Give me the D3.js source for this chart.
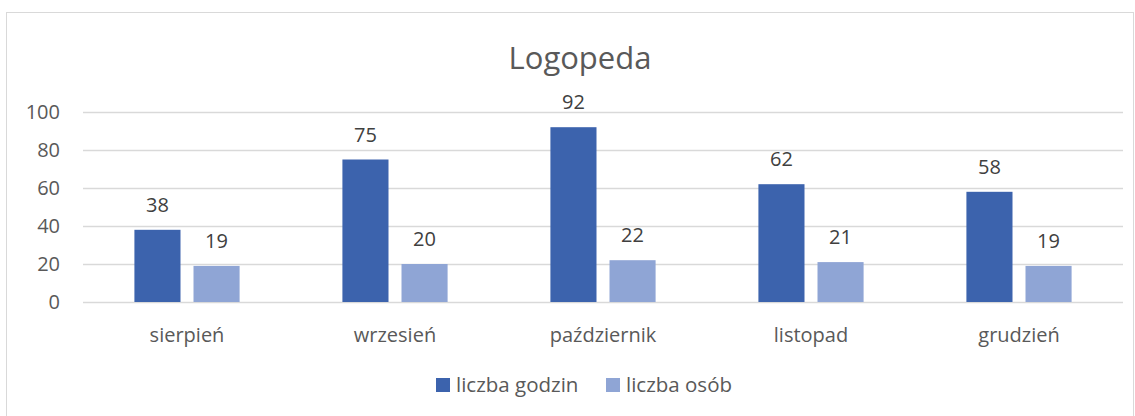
<!DOCTYPE html>
<html><head><meta charset="utf-8">
<script src="https://cdn.jsdelivr.net/npm/d3@7"></script>
<style>body{margin:0;background:#fff}svg{display:block;font-family:"Open Sans","Noto Sans",sans-serif}</style>
</head><body><svg id="c" width="1135" height="416"></svg>
<script>
const categories = ["sierpień","wrzesień","październik","listopad","grudzień"];
const seriesNames = ["liczba godzin","liczba osób"];
const godziny = [38,75,92,62,58];
const osoby = [19,20,22,21,19];
const yTicks = [0,20,40,60,80,100];
const colors = ["#3C63AD","#8FA5D5"];

const svg = d3.select("#c");
svg.append("rect").attr("x",6.5).attr("y",12.5).attr("width",1127).attr("height",420)
  .attr("fill","#fff").attr("stroke","#d9d9d9");

const m = {l:83, r:1123, t:112, b:302};
const x = d3.scaleBand().domain(categories).range([m.l,m.r]);
const y = d3.scaleLinear().domain([0,100]).range([m.b,m.t]);
const xs = d3.scaleBand().domain(seriesNames).range([0,x.bandwidth()]).paddingInner(0.22).paddingOuter(0.87);

svg.append("text").attr("x",580).attr("y",69).attr("text-anchor","middle")
  .attr("font-size",31).attr("fill","#595959").text("Logopeda");

const gy = svg.append("g");
gy.selectAll("line").data(yTicks).join("line")
  .attr("x1",m.l).attr("x2",m.r).attr("y1",d=>y(d)+0.5).attr("y2",d=>y(d)+0.5)
  .attr("stroke","#d9d9d9").attr("stroke-width",1.5);
gy.selectAll("text").data(yTicks).join("text")
  .attr("x",60).attr("y",d=>y(d)).attr("dy","0.35em").attr("text-anchor","end")
  .attr("font-size",20).attr("fill","#595959").text(d=>d);

const data = categories.map((c,i)=>({c, vals:[godziny[i],osoby[i]]}));
const g = svg.append("g");
data.forEach(d=>{
  d.vals.forEach((v,j)=>{
    const bx = x(d.c)+xs(seriesNames[j]);
    g.append("rect").attr("x",bx).attr("y",y(v)).attr("width",xs.bandwidth()).attr("height",y(0)-y(v))
      .attr("fill",colors[j]);
    g.append("text").attr("x",bx+xs.bandwidth()/2).attr("y",y(v)-18).attr("text-anchor","middle")
      .attr("font-size",20).attr("fill","#404040").text(v);
  });
  g.append("text").attr("x",x(d.c)+x.bandwidth()/2).attr("y",342).attr("text-anchor","middle")
    .attr("font-size",20).attr("fill","#595959").text(d.c);
});

const lg = svg.append("g");
const lx = [436,606];
seriesNames.forEach((s,j)=>{
  lg.append("rect").attr("x",lx[j]).attr("y",378).attr("width",14).attr("height",14).attr("fill",colors[j]);
  lg.append("text").attr("x",lx[j]+20).attr("y",392).attr("font-size",20.5).attr("fill","#595959").text(s);
});
</script></body></html>
